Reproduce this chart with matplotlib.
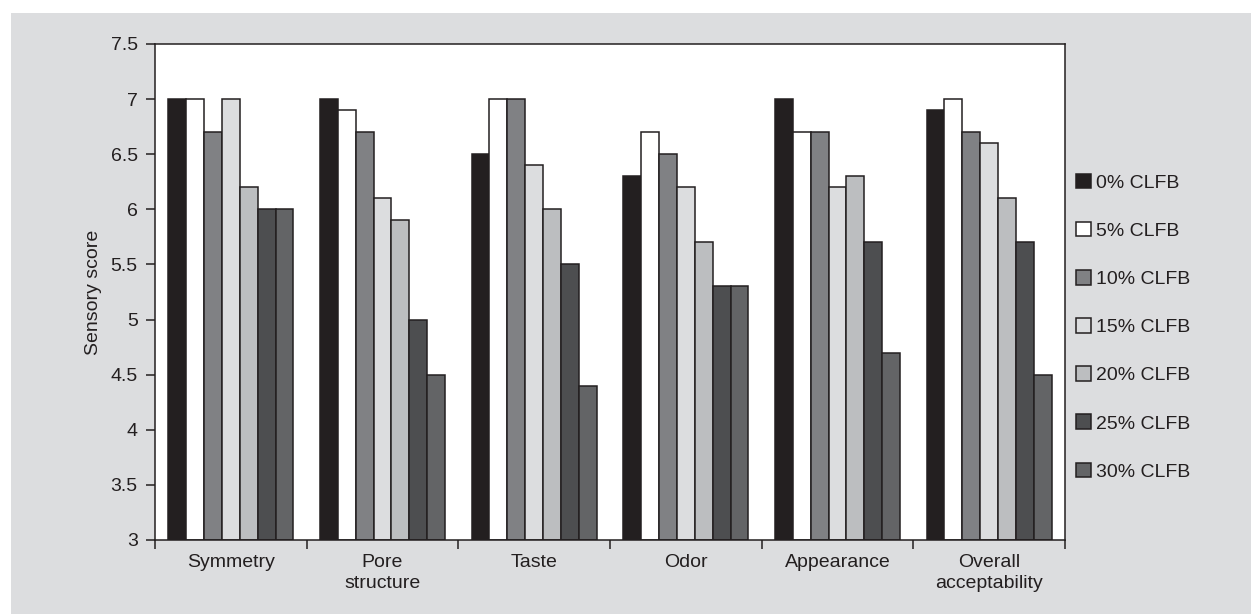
import matplotlib.pyplot as plt
from matplotlib import font_manager
from matplotlib.patches import Rectangle
import numpy as np

categories = ['Symmetry', 'Pore\nstructure', 'Taste', 'Odor', 'Appearance', 'Overall\nacceptability']
series_labels = ['0% CLFB', '5% CLFB', '10% CLFB', '15% CLFB', '20% CLFB', '25% CLFB', '30% CLFB']
scores = [
    [7.0, 7.0, 6.5, 6.3, 7.0, 6.9],   # 0%
    [7.0, 6.9, 7.0, 6.7, 6.7, 7.0],   # 5%
    [6.7, 6.7, 7.0, 6.5, 6.7, 6.7],   # 10%
    [7.0, 6.1, 6.4, 6.2, 6.2, 6.6],   # 15%
    [6.2, 5.9, 6.0, 5.7, 6.3, 6.1],   # 20%
    [6.0, 5.0, 5.5, 5.3, 5.7, 5.7],   # 25%
    [6.0, 4.5, 4.4, 5.3, 4.7, 4.5],   # 30%
]
colors = ['#231f20', '#ffffff', '#808184', '#dcdddf', '#bcbec0', '#4d4e50', '#636466']
edge = '#231f20'

# narrow face if there is one, otherwise plain Liberation Sans at a smaller size
try:
    font_manager.findfont('Liberation Sans Narrow', fallback_to_default=False)
    plt.rcParams['font.family'] = ['Liberation Sans Narrow', 'DejaVu Sans']
    fs = 17
except ValueError:
    plt.rcParams['font.family'] = ['Liberation Sans', 'DejaVu Sans']
    fs = 14

fig = plt.figure(figsize=(12.51, 6.15), dpi=100, facecolor='white')
fig.patches.append(Rectangle((11 / 1251, 1 / 615), 1, 1 - 14 / 615, transform=fig.transFigure,
                             facecolor='#dcdddf', edgecolor='none', zorder=-10))
ax = fig.add_axes([155 / 1251, 1 - 540 / 615, 910 / 1251, 496 / 615])
ax.set_facecolor('white')

x = np.arange(len(categories))
w = 0.118
for i, (vals, c, lab) in enumerate(zip(scores, colors, series_labels)):
    offs = (i - 3) * w
    ax.bar(x + offs, np.array(vals) - 3, bottom=3, width=w, color=c, edgecolor=edge,
           linewidth=1.1, label=lab)

ax.set_xlim(-0.5, len(categories) - 0.5)
ax.set_ylim(3, 7.5)
ax.set_yticks(np.arange(3, 7.51, 0.5))
ax.set_yticklabels(['3', '3.5', '4', '4.5', '5', '5.5', '6', '6.5', '7', '7.5'])
ax.set_xticks(x)
ax.set_xticklabels(categories, linespacing=1.3)
ax.set_xticks(np.arange(-0.5, len(categories)), minor=True)
ax.tick_params(axis='x', which='major', length=0, pad=10, labelsize=fs, colors='#231f20')
ax.tick_params(axis='x', which='minor', length=6.5, width=1.1, color='#231f20')
ax.tick_params(axis='y', length=6.5, width=1.1, pad=6, labelsize=fs, colors='#231f20')
for s in ax.spines.values():
    s.set_color('#231f20')
    s.set_linewidth(1.1)
ax.set_ylabel('Sensory score', fontsize=fs, color='#231f20')
ax.yaxis.set_label_coords(-0.058, 0.5)

leg = fig.legend(loc='center left', bbox_to_anchor=(1076 / 1251, 0.468), frameon=False,
                 fontsize=fs, handlelength=0.77, handleheight=0.77, handletextpad=0.26,
                 labelspacing=1.55, borderpad=0, borderaxespad=0)
for t in leg.get_texts():
    t.set_color('#231f20')

fig.savefig('out.png', dpi=100, facecolor=fig.get_facecolor())
